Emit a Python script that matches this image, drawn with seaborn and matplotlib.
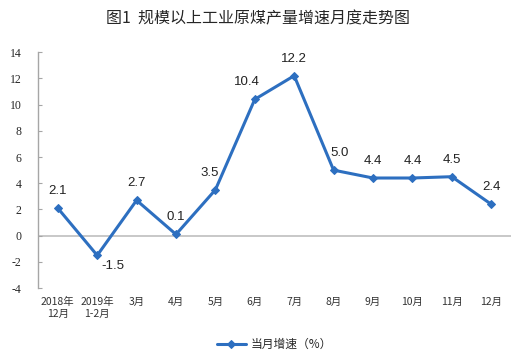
import numpy as np
import pandas as pd
import matplotlib
matplotlib.use('Agg')
import matplotlib.pyplot as plt
import seaborn as sns

# data
months = ['2018年\n12月', '2019年\n1-2月', '3月', '4月', '5月', '6月',
          '7月', '8月', '9月', '10月', '11月', '12月']
growth = [2.1, -1.5, 2.7, 0.1, 3.5, 10.4, 12.2, 5.0, 4.4, 4.4, 4.5, 2.4]
label_offsets = [(0, 8), (11, -3), (0, 8), (0, 8), (-4, 8), (-6, 8),
                 (0, 8), (4, 8), (0, 8), (0, 8), (0, 8), (0, 8)]

sns.set_style('white')
plt.rcParams['font.family'] = ['Noto Sans CJK SC', 'DejaVu Sans']

df = pd.DataFrame({'pos': np.arange(len(months)), 'val': growth})

fig = plt.figure(figsize=(5.15, 3.62), dpi=100)
ax = fig.add_axes([0.074, 0.204, 0.918, 0.652])
blue = '#2D6FC0'
sns.lineplot(data=df, x='pos', y='val', ax=ax, color=blue, linewidth=2.2,
             marker='D', markersize=4.5, markeredgecolor=blue,
             label='当月增速（%）')

ax.axhline(0, color='#BFBFBF', linewidth=1.2, zorder=0)

for i, v in enumerate(growth):
    dx, dy = label_offsets[i]
    ax.annotate(f'{v:.1f}', (i, v), xytext=(dx, dy), textcoords='offset points',
                ha='center', va='bottom' if dy > 0 else 'top',
                fontsize=9.5, family='Liberation Sans', color='#222222')

ax.set_xlim(-0.5, len(months) - 0.5)
ax.set_ylim(-4, 14)
ax.set_yticks(range(-4, 15, 2))
ax.set_yticklabels([str(t) for t in range(-4, 15, 2)], family='Liberation Serif', fontsize=8.5)
ax.set_xticks(range(len(months)))
ax.set_xticklabels(months, fontsize=7.5, color='#333333', linespacing=1.3)
ax.tick_params(axis='x', length=0, pad=6)
ax.tick_params(axis='y', length=3, width=0.8, color='#A6A6A6', direction='in', pad=12, left=True)
ax.set_xlabel('')
ax.set_ylabel('')

for s in ['top', 'right', 'bottom']:
    ax.spines[s].set_visible(False)
ax.spines['left'].set_color('#A6A6A6')
ax.spines['left'].set_linewidth(1.0)

leg = ax.legend(loc='upper center', bbox_to_anchor=(0.5, -0.165), frameon=False,
                fontsize=8.5, handlelength=2.5, handletextpad=0.4)

fig.suptitle('图1  规模以上工业原煤产量增速月度走势图', y=0.97, fontsize=11.5)

fig.savefig('out.png', dpi=100)
